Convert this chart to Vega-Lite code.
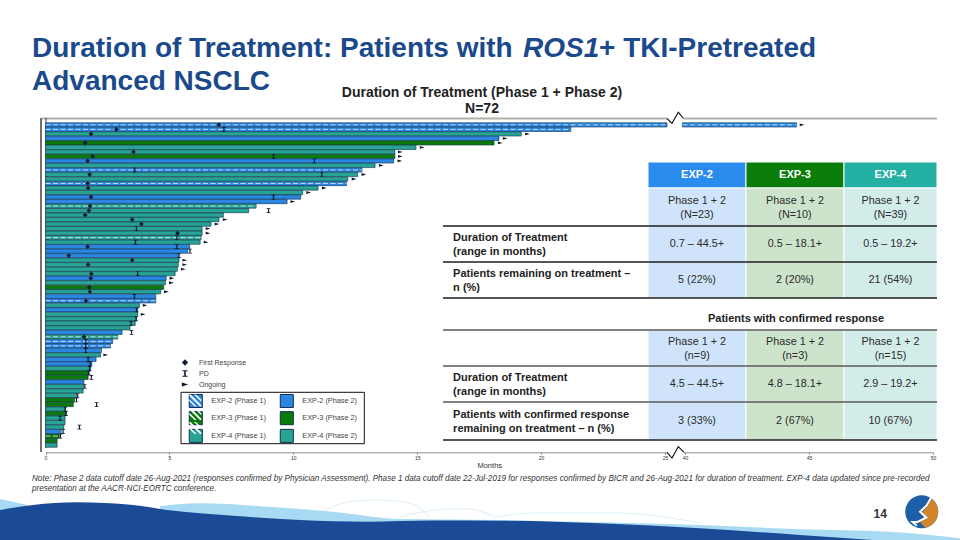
{
"$schema":"https://vega.github.io/schema/vega-lite/v6.json",
"width":960,"height":540,"padding":0,"autosize":{"type":"none"},"background":"#ffffff",
"config":{"view":{"stroke":null},"axis":{"disable":true},"font":"Liberation Sans"},
"data":{"values":[{"page":1}]},
"datasets":{
"waveLight":[{"u":160,"v":506,"v2":540},{"u":200,"v":503.3,"v2":540},{"u":267,"v":506.7,"v2":540},{"u":333,"v":511.7,"v2":540},{"u":400,"v":519,"v2":540},{"u":500,"v":520,"v2":540},{"u":600,"v":522.3,"v2":540},{"u":700,"v":525,"v2":540},{"u":800,"v":529.3,"v2":540},{"u":890,"v":531.7,"v2":540},{"u":960,"v":538.3,"v2":540}],
"waveWedge":[{"u":0,"v":499,"v2":511},{"u":14,"v":502,"v2":508},{"u":27,"v":505,"v2":506}],
"waveDark":[{"u":0,"v":510,"v2":540},{"u":33,"v":505,"v2":540},{"u":77,"v":502.3,"v2":540},{"u":133,"v":505,"v2":540},{"u":167,"v":510,"v2":540},{"u":233,"v":515.7,"v2":540},{"u":300,"v":520,"v2":540},{"u":367,"v":521.7,"v2":540},{"u":433,"v":520.5,"v2":540},{"u":500,"v":520.7,"v2":540},{"u":600,"v":523.3,"v2":540},{"u":700,"v":528.3,"v2":540},{"u":800,"v":535,"v2":540},{"u":873,"v":540,"v2":540}],
"waveLines":[{"s":"a","u":323,"v":511},{"s":"a","u":350,"v":501.7},{"s":"a","u":380,"v":500},{"s":"a","u":410,"v":503},{"s":"a","u":430,"v":517},{"s":"b","u":400,"v":517},{"s":"b","u":450,"v":509},{"s":"b","u":467,"v":509},{"s":"b","u":497,"v":518},{"s":"c","u":497,"v":517},{"s":"c","u":533,"v":513},{"s":"c","u":617,"v":513},{"s":"c","u":700,"v":523}],
"breakTop":[{"u":667,"v":118.5},{"u":672,"v":123.3},{"u":678.3,"v":112.3},{"u":683.5,"v":118.5}],
"breakBottom":[{"u":667,"v":452.3},{"u":672,"v":458},{"u":678.3,"v":446.7},{"u":684,"v":452.3}],
"bars":[
{"id":1,"arm":"EXP-2 (Phase 1)","phase":1,"start":0,"end":26.5},{"id":1,"arm":"EXP-2 (Phase 1)","phase":1,"start":38,"end":44.5},
{"id":2,"arm":"EXP-2 (Phase 1)","phase":1,"start":0,"end":21.2},
{"id":3,"arm":"EXP-4 (Phase 2)","phase":2,"start":0,"end":19.2},
{"id":4,"arm":"EXP-2 (Phase 2)","phase":2,"start":0,"end":18.3},
{"id":5,"arm":"EXP-3 (Phase 2)","phase":2,"start":0,"end":18.1},
{"id":6,"arm":"EXP-4 (Phase 2)","phase":2,"start":0,"end":14.95},
{"id":7,"arm":"EXP-4 (Phase 2)","phase":2,"start":0,"end":14.1},
{"id":8,"arm":"EXP-3 (Phase 2)","phase":2,"start":0,"end":14.1},
{"id":9,"arm":"EXP-2 (Phase 2)","phase":2,"start":0,"end":14.05},
{"id":10,"arm":"EXP-4 (Phase 2)","phase":2,"start":0,"end":13.3},
{"id":11,"arm":"EXP-2 (Phase 1)","phase":1,"start":0,"end":12.77},
{"id":12,"arm":"EXP-4 (Phase 2)","phase":2,"start":0,"end":12.6},
{"id":13,"arm":"EXP-4 (Phase 2)","phase":2,"start":0,"end":12.2},
{"id":14,"arm":"EXP-2 (Phase 1)","phase":1,"start":0,"end":12.15},
{"id":15,"arm":"EXP-4 (Phase 2)","phase":2,"start":0,"end":11.0},
{"id":16,"arm":"EXP-4 (Phase 2)","phase":2,"start":0,"end":10.38},
{"id":17,"arm":"EXP-2 (Phase 2)","phase":2,"start":0,"end":10.3},
{"id":18,"arm":"EXP-2 (Phase 2)","phase":2,"start":0,"end":9.75},
{"id":19,"arm":"EXP-4 (Phase 1)","phase":1,"start":0,"end":8.5},
{"id":20,"arm":"EXP-4 (Phase 2)","phase":2,"start":0,"end":8.2},
{"id":21,"arm":"EXP-4 (Phase 2)","phase":2,"start":0,"end":7.18},
{"id":22,"arm":"EXP-4 (Phase 2)","phase":2,"start":0,"end":7.0},
{"id":23,"arm":"EXP-4 (Phase 2)","phase":2,"start":0,"end":6.68},
{"id":24,"arm":"EXP-4 (Phase 2)","phase":2,"start":0,"end":6.32},
{"id":25,"arm":"EXP-4 (Phase 2)","phase":2,"start":0,"end":6.32},
{"id":26,"arm":"EXP-4 (Phase 1)","phase":1,"start":0,"end":6.28},
{"id":27,"arm":"EXP-4 (Phase 2)","phase":2,"start":0,"end":6.24},
{"id":28,"arm":"EXP-2 (Phase 2)","phase":2,"start":0,"end":5.82},
{"id":29,"arm":"EXP-2 (Phase 2)","phase":2,"start":0,"end":5.74},
{"id":30,"arm":"EXP-2 (Phase 2)","phase":2,"start":0,"end":5.36},
{"id":31,"arm":"EXP-4 (Phase 2)","phase":2,"start":0,"end":5.39},
{"id":32,"arm":"EXP-4 (Phase 2)","phase":2,"start":0,"end":5.36},
{"id":33,"arm":"EXP-4 (Phase 2)","phase":2,"start":0,"end":5.32},
{"id":34,"arm":"EXP-4 (Phase 2)","phase":2,"start":0,"end":5.23},
{"id":35,"arm":"EXP-2 (Phase 2)","phase":2,"start":0,"end":4.87},
{"id":36,"arm":"EXP-4 (Phase 2)","phase":2,"start":0,"end":4.84},
{"id":37,"arm":"EXP-3 (Phase 2)","phase":2,"start":0,"end":4.77},
{"id":38,"arm":"EXP-4 (Phase 2)","phase":2,"start":0,"end":4.65},
{"id":39,"arm":"EXP-2 (Phase 2)","phase":2,"start":0,"end":4.45},
{"id":40,"arm":"EXP-2 (Phase 1)","phase":1,"start":0,"end":4.45},
{"id":41,"arm":"EXP-4 (Phase 2)","phase":2,"start":0,"end":3.79},
{"id":42,"arm":"EXP-2 (Phase 2)","phase":2,"start":0,"end":3.72},
{"id":43,"arm":"EXP-4 (Phase 2)","phase":2,"start":0,"end":3.72},
{"id":44,"arm":"EXP-4 (Phase 2)","phase":2,"start":0,"end":3.66},
{"id":45,"arm":"EXP-4 (Phase 2)","phase":2,"start":0,"end":3.62},
{"id":46,"arm":"EXP-4 (Phase 2)","phase":2,"start":0,"end":3.41},
{"id":47,"arm":"EXP-2 (Phase 2)","phase":2,"start":0,"end":3.09},
{"id":48,"arm":"EXP-4 (Phase 1)","phase":1,"start":0,"end":2.92},
{"id":49,"arm":"EXP-2 (Phase 1)","phase":1,"start":0,"end":2.71},
{"id":50,"arm":"EXP-2 (Phase 1)","phase":1,"start":0,"end":2.62},
{"id":51,"arm":"EXP-2 (Phase 2)","phase":2,"start":0,"end":2.26},
{"id":52,"arm":"EXP-4 (Phase 2)","phase":2,"start":0,"end":2.22},
{"id":53,"arm":"EXP-2 (Phase 2)","phase":2,"start":0,"end":2.04},
{"id":54,"arm":"EXP-2 (Phase 2)","phase":2,"start":0,"end":1.87},
{"id":55,"arm":"EXP-4 (Phase 2)","phase":2,"start":0,"end":1.82},
{"id":56,"arm":"EXP-3 (Phase 2)","phase":2,"start":0,"end":1.75},
{"id":57,"arm":"EXP-3 (Phase 2)","phase":2,"start":0,"end":1.72},
{"id":58,"arm":"EXP-2 (Phase 2)","phase":2,"start":0,"end":1.55},
{"id":59,"arm":"EXP-4 (Phase 2)","phase":2,"start":0,"end":1.55},
{"id":60,"arm":"EXP-4 (Phase 2)","phase":2,"start":0,"end":1.52},
{"id":61,"arm":"EXP-4 (Phase 2)","phase":2,"start":0,"end":1.25},
{"id":62,"arm":"EXP-3 (Phase 2)","phase":2,"start":0,"end":1.17},
{"id":63,"arm":"EXP-3 (Phase 2)","phase":2,"start":0,"end":1.12},
{"id":64,"arm":"EXP-4 (Phase 2)","phase":2,"start":0,"end":0.79},
{"id":65,"arm":"EXP-3 (Phase 2)","phase":2,"start":0,"end":0.83},
{"id":66,"arm":"EXP-4 (Phase 2)","phase":2,"start":0,"end":0.79},
{"id":67,"arm":"EXP-4 (Phase 2)","phase":2,"start":0,"end":0.79},
{"id":68,"arm":"EXP-4 (Phase 2)","phase":2,"start":0,"end":0.74},
{"id":69,"arm":"EXP-2 (Phase 2)","phase":2,"start":0,"end":0.63},
{"id":70,"arm":"EXP-3 (Phase 1)","phase":1,"start":0,"end":0.55},
{"id":71,"arm":"EXP-3 (Phase 2)","phase":2,"start":0,"end":0.47},
{"id":72,"arm":"EXP-4 (Phase 2)","phase":2,"start":0,"end":0.47}
],
"events":[
{"id":1,"event":"First Response","month":7.0},{"id":2,"event":"First Response","month":2.86},{"id":3,"event":"First Response","month":1.84},{"id":5,"event":"First Response","month":1.6},{"id":7,"event":"First Response","month":3.55},{"id":8,"event":"First Response","month":1.9},{"id":9,"event":"First Response","month":1.7},{"id":12,"event":"First Response","month":1.78},{"id":14,"event":"First Response","month":1.7},{"id":15,"event":"First Response","month":1.72},{"id":17,"event":"First Response","month":1.84},{"id":19,"event":"First Response","month":1.8},{"id":20,"event":"First Response","month":1.75},{"id":21,"event":"First Response","month":1.6},{"id":22,"event":"First Response","month":3.5},{"id":23,"event":"First Response","month":3.87},{"id":25,"event":"First Response","month":5.33},{"id":28,"event":"First Response","month":1.7},{"id":30,"event":"First Response","month":0.94},{"id":31,"event":"First Response","month":3.5},{"id":32,"event":"First Response","month":1.72},{"id":34,"event":"First Response","month":1.85},{"id":35,"event":"First Response","month":1.83},{"id":37,"event":"First Response","month":1.77},{"id":38,"event":"First Response","month":1.79},{"id":40,"event":"First Response","month":1.63},{"id":48,"event":"First Response","month":1.56},
{"id":2,"event":"PD","month":7.2},{"id":8,"event":"PD","month":9.2},{"id":9,"event":"PD","month":10.85},{"id":11,"event":"PD","month":3.6},{"id":12,"event":"PD","month":11.15},{"id":17,"event":"PD","month":9.2},{"id":20,"event":"PD","month":9.0},{"id":24,"event":"PD","month":3.67},{"id":26,"event":"PD","month":5.3},{"id":27,"event":"PD","month":3.63},{"id":28,"event":"PD","month":5.3},{"id":29,"event":"PD","month":5.83},{"id":30,"event":"PD","month":5.39},{"id":34,"event":"PD","month":3.72},{"id":39,"event":"PD","month":3.59},{"id":42,"event":"PD","month":3.68},{"id":44,"event":"PD","month":3.66},{"id":45,"event":"PD","month":3.45},{"id":47,"event":"PD","month":3.47},{"id":49,"event":"PD","month":1.63},{"id":50,"event":"PD","month":1.62},{"id":51,"event":"PD","month":1.62},{"id":53,"event":"PD","month":1.72},{"id":54,"event":"PD","month":1.8},{"id":55,"event":"PD","month":1.78},{"id":56,"event":"PD","month":1.75},{"id":57,"event":"PD","month":1.85},{"id":59,"event":"PD","month":1.59},{"id":61,"event":"PD","month":1.3},{"id":62,"event":"PD","month":1.25},{"id":63,"event":"PD","month":2.06},{"id":64,"event":"PD","month":0.8},{"id":65,"event":"PD","month":0.83},{"id":66,"event":"PD","month":0.59},{"id":68,"event":"PD","month":1.37},{"id":69,"event":"PD","month":0.71},{"id":70,"event":"PD","month":0.6},
{"id":1,"event":"Ongoing","month":44.72},{"id":3,"event":"Ongoing","month":19.45},{"id":4,"event":"Ongoing","month":18.55},{"id":5,"event":"Ongoing","month":18.35},{"id":6,"event":"Ongoing","month":15.2},{"id":7,"event":"Ongoing","month":14.32},{"id":8,"event":"Ongoing","month":14.32},{"id":9,"event":"Ongoing","month":14.3},{"id":10,"event":"Ongoing","month":13.55},{"id":12,"event":"Ongoing","month":12.85},{"id":13,"event":"Ongoing","month":12.45},{"id":15,"event":"Ongoing","month":11.25},{"id":16,"event":"Ongoing","month":10.62},{"id":18,"event":"Ongoing","month":9.98},{"id":22,"event":"Ongoing","month":7.25},{"id":23,"event":"Ongoing","month":6.92},{"id":24,"event":"Ongoing","month":6.56},{"id":25,"event":"Ongoing","month":6.56},{"id":27,"event":"Ongoing","month":6.48},{"id":31,"event":"Ongoing","month":5.62},{"id":32,"event":"Ongoing","month":5.62},{"id":33,"event":"Ongoing","month":5.56},{"id":35,"event":"Ongoing","month":5.1},{"id":36,"event":"Ongoing","month":5.08},{"id":38,"event":"Ongoing","month":4.88},{"id":41,"event":"Ongoing","month":4.02},{"id":43,"event":"Ongoing","month":3.94},{"id":52,"event":"Ongoing","month":2.43}
],
"cells":[
{"c0":1,"c1":2,"r0":0,"r1":1,"shade":"EXP-2 header"},{"c0":2,"c1":3,"r0":0,"r1":1,"shade":"EXP-3 header"},{"c0":3,"c1":4,"r0":0,"r1":1,"shade":"EXP-4 header"},
{"c0":1,"c1":2,"r0":1,"r1":4,"shade":"EXP-2 body"},{"c0":2,"c1":3,"r0":1,"r1":4,"shade":"EXP-3 body"},{"c0":3,"c1":4,"r0":1,"r1":4,"shade":"EXP-4 body"},
{"c0":1,"c1":2,"r0":5,"r1":8,"shade":"EXP-2 body"},{"c0":2,"c1":3,"r0":5,"r1":8,"shade":"EXP-3 body"},{"c0":3,"c1":4,"r0":5,"r1":8,"shade":"EXP-4 body"}
],
"lines":[{"r":2,"tone":"dark"},{"r":3,"tone":"dark"},{"r":4,"tone":"dark"},{"r":5,"tone":"mid"},{"r":6,"tone":"mid"},{"r":7,"tone":"mid"},{"r":8,"tone":"dark"}],
"tableText":[
{"kind":"header","cx":1.5,"cy":0.5,"label":"EXP-2"},{"kind":"header","cx":2.5,"cy":0.5,"label":"EXP-3"},{"kind":"header","cx":3.5,"cy":0.5,"label":"EXP-4"},
{"kind":"body","cx":1.5,"cy":1.34,"label":"Phase 1 + 2\n(N=23)"},{"kind":"body","cx":2.5,"cy":1.34,"label":"Phase 1 + 2\n(N=10)"},{"kind":"body","cx":3.5,"cy":1.34,"label":"Phase 1 + 2\n(N=39)"},
{"kind":"body","cx":1.5,"cy":2.5,"label":"0.7 – 44.5+"},{"kind":"body","cx":2.5,"cy":2.5,"label":"0.5 – 18.1+"},{"kind":"body","cx":3.5,"cy":2.5,"label":"0.5 – 19.2+"},
{"kind":"body","cx":1.5,"cy":3.5,"label":"5 (22%)"},{"kind":"body","cx":2.5,"cy":3.5,"label":"2 (20%)"},{"kind":"body","cx":3.5,"cy":3.5,"label":"21 (54%)"},
{"kind":"body","cx":1.5,"cy":5.33,"label":"Phase 1 + 2\n(n=9)"},{"kind":"body","cx":2.5,"cy":5.33,"label":"Phase 1 + 2\n(n=3)"},{"kind":"body","cx":3.5,"cy":5.33,"label":"Phase 1 + 2\n(n=15)"},
{"kind":"body","cx":1.5,"cy":6.5,"label":"4.5 – 44.5+"},{"kind":"body","cx":2.5,"cy":6.5,"label":"4.8 – 18.1+"},{"kind":"body","cx":3.5,"cy":6.5,"label":"2.9 – 19.2+"},
{"kind":"body","cx":1.5,"cy":7.5,"label":"3 (33%)"},{"kind":"body","cx":2.5,"cy":7.5,"label":"2 (67%)"},{"kind":"body","cx":3.5,"cy":7.5,"label":"10 (67%)"},
{"kind":"rowlabel","cx":0.04,"cy":2.34,"label":"Duration of Treatment\n (range in months)"},
{"kind":"rowlabel","cx":0.04,"cy":3.34,"label":"Patients remaining on treatment –\nn (%)"},
{"kind":"rowlabel","cx":0.04,"cy":6.32,"label":"Duration of Treatment\n(range in months)"},
{"kind":"rowlabel","cx":0.04,"cy":7.34,"label":"Patients with confirmed response\nremaining on treatment – n (%)"},
{"kind":"heading","cx":2.51,"cy":4.66,"label":"Patients with confirmed response"}
]
},
"resolve":{"scale":{"x":"independent","y":"independent","color":"independent","shape":"independent"}},
"layer":[
{"layer":[
{"data":{"name":"waveLight"},"mark":{"type":"area","color":"#A9DAF3","interpolate":"monotone"},"encoding":{"x":{"field":"u","type":"quantitative","scale":{"domain":[0,960],"range":[0,960],"nice":false}},"y":{"field":"v","type":"quantitative","scale":{"domain":[0,540],"range":[0,540],"nice":false}},"y2":{"field":"v2"}}},
{"data":{"name":"waveWedge"},"mark":{"type":"area","color":"#A9DAF3"},"encoding":{"x":{"field":"u","type":"quantitative"},"y":{"field":"v","type":"quantitative"},"y2":{"field":"v2"}}},
{"data":{"name":"waveLines"},"mark":{"type":"line","color":"#D4EAF5","strokeWidth":0.8,"interpolate":"monotone"},"encoding":{"x":{"field":"u","type":"quantitative"},"y":{"field":"v","type":"quantitative"},"detail":{"field":"s"}}},
{"data":{"name":"waveDark"},"mark":{"type":"area","color":"#1B4A96","interpolate":"monotone"},"encoding":{"x":{"field":"u","type":"quantitative"},"y":{"field":"v","type":"quantitative"},"y2":{"field":"v2"}}},
{"mark":{"type":"text","text":"Duration of Treatment: Patients with ","font":"Liberation Sans","fontWeight":"bold","fontSize":28,"color":"#1B4A8C","align":"left","baseline":"alphabetic"},"encoding":{"x":{"datum":32},"y":{"datum":57}}},
{"mark":{"type":"text","text":"ROS1","font":"Liberation Sans","fontWeight":"bold","fontStyle":"italic","fontSize":28,"color":"#1B4A8C","align":"left","baseline":"alphabetic"},"encoding":{"x":{"datum":523},"y":{"datum":57}}},
{"mark":{"type":"text","text":"+ TKI-Pretreated","font":"Liberation Sans","fontWeight":"bold","fontSize":28,"color":"#1B4A8C","align":"left","baseline":"alphabetic"},"encoding":{"x":{"datum":599},"y":{"datum":57}}},
{"mark":{"type":"text","text":"Advanced NSCLC","font":"Liberation Sans","fontWeight":"bold","fontSize":28,"color":"#1B4A8C","align":"left","baseline":"alphabetic"},"encoding":{"x":{"datum":32},"y":{"datum":90}}},
{"mark":{"type":"text","text":["Duration of Treatment (Phase 1 + Phase 2)","N=72"],"lineHeight":16,"font":"Liberation Sans","fontWeight":"bold","fontSize":14,"color":"#222222","align":"center","baseline":"alphabetic"},"encoding":{"x":{"datum":482},"y":{"datum":97}}},
{"mark":{"type":"text","text":["Note: Phase 2 data cutoff date 26-Aug-2021 (responses confirmed by Physician Assessment). Phase 1 data cutoff date 22-Jul-2019 for responses confirmed by BICR and 26-Aug-2021 for duration of treatment. EXP-4 data updated since pre-recorded","presentation at the AACR-NCI-EORTC conference."],"lineHeight":10,"font":"Liberation Sans","fontStyle":"italic","fontSize":8.15,"color":"#333333","align":"left","baseline":"alphabetic"},"encoding":{"x":{"datum":32},"y":{"datum":481}}},
{"mark":{"type":"text","text":"14","font":"Liberation Sans","fontWeight":"bold","fontSize":12,"color":"#333333","align":"left","baseline":"middle"},"encoding":{"x":{"datum":873.5},"y":{"datum":514}}},
{"mark":{"type":"rule","color":"#B4B0A9","strokeWidth":2},"encoding":{"x":{"datum":42},"x2":{"datum":937},"y":{"datum":118.5}}},
{"mark":{"type":"rule","color":"#FFFFFF","strokeWidth":3},"encoding":{"x":{"datum":667},"x2":{"datum":683.5},"y":{"datum":118.5}}},
{"mark":{"type":"rule","color":"#111111","strokeWidth":1.2},"encoding":{"x":{"datum":41},"y":{"datum":118},"y2":{"datum":452}}},
{"mark":{"type":"rule","color":"#111111","strokeWidth":0.8},"encoding":{"x":{"datum":46},"y":{"datum":118},"y2":{"datum":448}}},
{"mark":{"type":"rect","fillOpacity":0,"stroke":"#111111","strokeWidth":1},"encoding":{"x":{"datum":181},"x2":{"datum":364.3},"y":{"datum":392.3},"y2":{"datum":443.7}}},
{"mark":{"type":"point","filled":true,"color":"#1F5FA8","opacity":1,"size":1089,"shape":"M-1,0A1,1 0 1,1 1,0A1,1 0 1,1 -1,0Z"},"encoding":{"x":{"datum":921.7},"y":{"datum":511.7}}},
{"mark":{"type":"point","filled":true,"color":"#D0852B","opacity":1,"size":1089,"shape":"M0.6,-0.8A1,1 0 0,1 0.2,0.98L-0.1,0.62L0.35,0.35L0.02,0.05L0.35,-0.35Z"},"encoding":{"x":{"datum":921.7},"y":{"datum":511.7}}},
{"mark":{"type":"point","filled":false,"stroke":"#FFFFFF","strokeWidth":2,"opacity":1,"size":1089,"shape":"M0.6,-0.9L0.3,-0.38L-0.1,0L0.28,0.35L-0.25,0.62L-0.55,0.62L-0.3,0.85"},"encoding":{"x":{"datum":921.7},"y":{"datum":511.7}}}
]},
{"resolve":{"scale":{"shape":"independent"}},"layer":[
{"data":{"name":"bars"},"mark":{"type":"bar","stroke":"#10304F","strokeWidth":0.6},"encoding":{
"x":{"field":"start","type":"quantitative","title":"Months","scale":{"domain":[0,25,40,50],"range":[45.5,665,685,933],"zero":false,"nice":false},"axis":{"disable":false,"offset":-87.7,"values":[0,5,10,15,20,25,40,45,50],"grid":false,"domainColor":"#8C8C8C","domainWidth":1,"tickColor":"#8C8C8C","tickSize":2,"labelFontSize":5,"labelColor":"#333333","labelPadding":1,"titleFontSize":7.5,"titleFontWeight":"normal","titleColor":"#333333","titlePadding":1,"labelFlush":false,"labelOverlap":false}},
"x2":{"field":"end"},
"y":{"field":"id","type":"ordinal","scale":{"type":"band","range":[122.75,447.25],"paddingInner":0.06,"paddingOuter":0},"axis":null},
"color":{"field":"arm","type":"nominal","legend":null,"scale":{"domain":["EXP-2 (Phase 1)","EXP-3 (Phase 1)","EXP-4 (Phase 1)","EXP-2 (Phase 2)","EXP-3 (Phase 2)","EXP-4 (Phase 2)"],"range":["#2A86E0","#0A7A0A","#28A495","#2A86E0","#0A7A0A","#28A495"]}}
}},
{"data":{"name":"bars"},"mark":{"type":"point","opacity":0},"encoding":{
"x":{"field":"start","type":"quantitative","title":"Months","scale":{"domain":[0,25,40,50],"range":[45.5,665,685,933],"zero":false,"nice":false},"axis":{"disable":false,"offset":-87.7,"values":[0,5,10,15,20,25,40,45,50],"grid":false,"domainColor":"#8C8C8C","domainWidth":1,"tickColor":"#8C8C8C","tickSize":2,"labelFontSize":5,"labelColor":"#333333","labelPadding":1,"titleFontSize":7.5,"titleFontWeight":"normal","titleColor":"#333333","titlePadding":1,"labelFlush":false,"labelOverlap":false}},
"y":{"field":"id","type":"ordinal"},
"fill":{"field":"arm","type":"nominal","scale":{"domain":["EXP-2 (Phase 1)","EXP-3 (Phase 1)","EXP-4 (Phase 1)","EXP-2 (Phase 2)","EXP-3 (Phase 2)","EXP-4 (Phase 2)"],"range":["#2A86E0","#0A7A0A","#28A495","#2A86E0","#0A7A0A","#28A495"]},"legend":{"title":null,"orient":"none","legendX":188.3,"legendY":393,"columns":2,"padding":0,"symbolType":"square","symbolSize":170,"symbolOpacity":1,"symbolStrokeColor":"#10304F","symbolStrokeWidth":1,"labelFontSize":7.3,"labelColor":"#444444","labelOffset":8,"columnPadding":11,"rowPadding":-1.3}},
"shape":{"field":"arm","type":"nominal","legend":{"title":null,"orient":"none","legendX":188.3,"legendY":393,"columns":2,"padding":0,"symbolSize":170,"symbolOpacity":1,"symbolFillColor":"#FFFFFF","symbolStrokeColor":"#FFFFFF","symbolStrokeWidth":0,"labelFontSize":7.3,"labelColor":"#444444","labelOpacity":0,"labelOffset":8,"columnPadding":11,"rowPadding":-1.3},"scale":{"domain":["EXP-2 (Phase 1)","EXP-3 (Phase 1)","EXP-4 (Phase 1)","EXP-2 (Phase 2)","EXP-3 (Phase 2)","EXP-4 (Phase 2)"],"range":["M0.1,-0.93L0.93,-0.1L0.93,0.2L-0.2,-0.93ZM-0.85,-0.93L-0.72,-0.93L0.93,0.72L0.93,0.85L0.85,0.93L0.72,0.93L-0.93,-0.72L-0.93,-0.85ZM-0.93,-0.2L0.2,0.93L-0.1,0.93L-0.93,0.1Z","M0.1,-0.93L0.93,-0.1L0.93,0.2L-0.2,-0.93ZM-0.85,-0.93L-0.72,-0.93L0.93,0.72L0.93,0.85L0.85,0.93L0.72,0.93L-0.93,-0.72L-0.93,-0.85ZM-0.93,-0.2L0.2,0.93L-0.1,0.93L-0.93,0.1Z","M0.1,-0.93L0.93,-0.1L0.93,0.2L-0.2,-0.93ZM-0.85,-0.93L-0.72,-0.93L0.93,0.72L0.93,0.85L0.85,0.93L0.72,0.93L-0.93,-0.72L-0.93,-0.85ZM-0.93,-0.2L0.2,0.93L-0.1,0.93L-0.93,0.1Z","M0,0L0,0Z","M0,0L0,0Z","M0,0L0,0Z"]}}
}},
{"data":{"name":"bars"},"transform":[{"filter":"datum.phase==1"}],"mark":{"type":"rule","color":"#FFFFFF","strokeWidth":1,"strokeDash":[5,2.5],"opacity":0.7},"encoding":{"x":{"field":"start","type":"quantitative","title":"Months","scale":{"domain":[0,25,40,50],"range":[45.5,665,685,933],"zero":false,"nice":false},"axis":{"disable":false,"offset":-87.7,"values":[0,5,10,15,20,25,40,45,50],"grid":false,"domainColor":"#8C8C8C","domainWidth":1,"tickColor":"#8C8C8C","tickSize":2,"labelFontSize":5,"labelColor":"#333333","labelPadding":1,"titleFontSize":7.5,"titleFontWeight":"normal","titleColor":"#333333","titlePadding":1,"labelFlush":false,"labelOverlap":false}},"x2":{"field":"end"},"y":{"field":"id","type":"ordinal"}}},
{"data":{"name":"events"},"mark":{"type":"point","filled":true,"size":22,"opacity":1},"encoding":{
"x":{"field":"month","type":"quantitative","title":"Months","scale":{"domain":[0,25,40,50],"range":[45.5,665,685,933],"zero":false,"nice":false},"axis":{"disable":false,"offset":-87.7,"values":[0,5,10,15,20,25,40,45,50],"grid":false,"domainColor":"#8C8C8C","domainWidth":1,"tickColor":"#8C8C8C","tickSize":2,"labelFontSize":5,"labelColor":"#333333","labelPadding":1,"titleFontSize":7.5,"titleFontWeight":"normal","titleColor":"#333333","titlePadding":1,"labelFlush":false,"labelOverlap":false}},
"y":{"field":"id","type":"ordinal"},
"color":{"value":"#0E1A30"},
"shape":{"field":"event","type":"nominal","scale":{"domain":["First Response","PD","Ongoing"],"range":["diamond","M-0.8,-1H0.8V-0.7H0.25V0.7H0.8V1H-0.8V0.7H-0.25V-0.7H-0.8Z","M-1,-0.6L1,0L-1,0.6Z"]},"legend":{"title":null,"orient":"none","legendX":181,"legendY":358.5,"symbolSize":40,"symbolFillColor":"#111111","symbolStrokeColor":"#111111","labelFontSize":7,"labelColor":"#444444","labelOffset":10,"rowPadding":-5.5,"padding":0}}
}}
]},
{"layer":[
{"data":{"name":"cells"},"mark":{"type":"rect","stroke":"#FFFFFF","strokeWidth":1},"encoding":{
"x":{"field":"c0","type":"quantitative","scale":{"domain":[0,1,2,3,4],"range":[445,648,746,844,937],"nice":false}},"x2":{"field":"c1"},
"y":{"field":"r0","type":"quantitative","scale":{"domain":[0,1,2,3,4,5,6,7,8],"range":[162,188,226,262,298,330,366,402,440],"nice":false}},"y2":{"field":"r1"},
"color":{"field":"shade","type":"nominal","legend":null,"scale":{"domain":["EXP-2 header","EXP-3 header","EXP-4 header","EXP-2 body","EXP-3 body","EXP-4 body"],"range":["#2B8CF0","#0A7D0A","#23B0A3","#CFE4FA","#CDE3CB","#D2EDE9"]}}
}},
{"data":{"name":"lines"},"mark":{"type":"rule","strokeWidth":1.4},"encoding":{
"x":{"datum":-0.01},"x2":{"datum":4},
"y":{"field":"r","type":"quantitative"},
"stroke":{"field":"tone","type":"nominal","legend":null,"scale":{"domain":["dark","mid"],"range":["#1E1E1E","#5A5A5A"]}}
}},
{"data":{"name":"tableText"},"transform":[{"filter":"datum.kind=='header'"}],"mark":{"type":"text","font":"Liberation Sans","fontWeight":"bold","fontSize":11,"color":"#FFFFFF","align":"center","baseline":"middle"},"encoding":{"x":{"field":"cx","type":"quantitative"},"y":{"field":"cy","type":"quantitative"},"text":{"field":"label"}}},
{"data":{"name":"tableText"},"transform":[{"filter":"datum.kind=='body'"}],"mark":{"type":"text","font":"Liberation Sans","fontSize":10.8,"color":"#2B2B2B","align":"center","baseline":"middle","lineBreak":"\n","lineHeight":14},"encoding":{"x":{"field":"cx","type":"quantitative"},"y":{"field":"cy","type":"quantitative"},"text":{"field":"label"}}},
{"data":{"name":"tableText"},"transform":[{"filter":"datum.kind=='rowlabel'"}],"mark":{"type":"text","font":"Liberation Sans","fontWeight":"bold","fontSize":11,"color":"#222222","align":"left","baseline":"middle","lineBreak":"\n","lineHeight":14},"encoding":{"x":{"field":"cx","type":"quantitative"},"y":{"field":"cy","type":"quantitative"},"text":{"field":"label"}}},
{"data":{"name":"tableText"},"transform":[{"filter":"datum.kind=='heading'"}],"mark":{"type":"text","font":"Liberation Sans","fontWeight":"bold","fontSize":11,"color":"#222222","align":"center","baseline":"middle"},"encoding":{"x":{"field":"cx","type":"quantitative"},"y":{"field":"cy","type":"quantitative"},"text":{"field":"label"}}}
]},
{"layer":[
{"data":{"name":"breakBottom"},"mark":{"type":"rule","color":"#FFFFFF","strokeWidth":3},"encoding":{"x":{"aggregate":"min","field":"u","type":"quantitative","scale":{"domain":[0,960],"range":[0,960],"nice":false}},"x2":{"aggregate":"max","field":"u"},"y":{"datum":452.3,"scale":{"domain":[0,540],"range":[0,540],"nice":false}}}},
{"data":{"name":"breakBottom"},"mark":{"type":"line","color":"#111111","strokeWidth":1.1},"encoding":{"x":{"field":"u","type":"quantitative","sort":null},"y":{"field":"v","type":"quantitative"}}},
{"data":{"name":"breakTop"},"mark":{"type":"line","color":"#111111","strokeWidth":1.1},"encoding":{"x":{"field":"u","type":"quantitative","sort":null},"y":{"field":"v","type":"quantitative"}}}
]}
]
}
